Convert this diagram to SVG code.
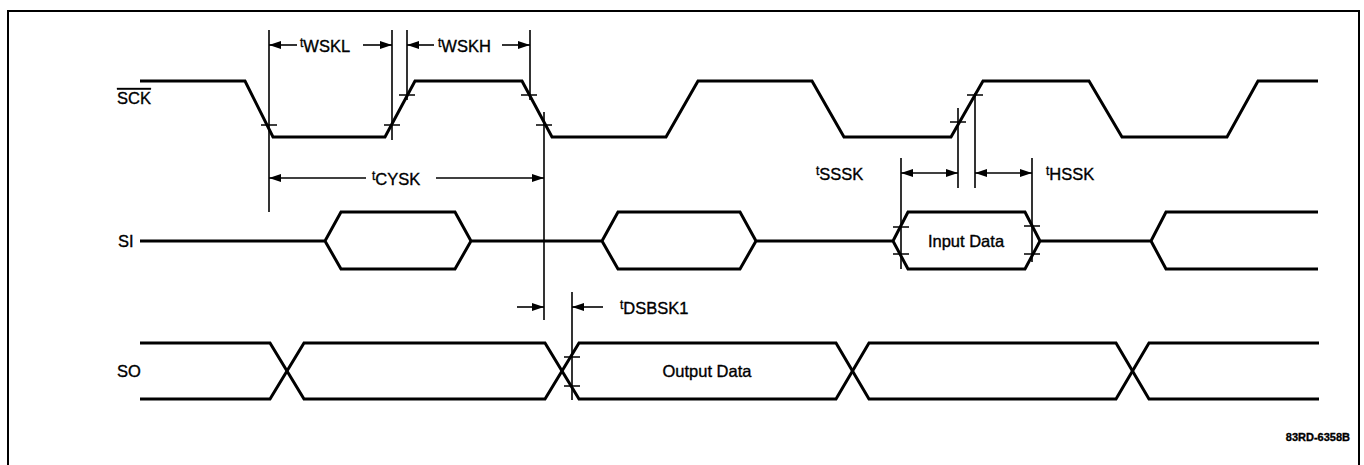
<svg xmlns="http://www.w3.org/2000/svg" width="1364" height="465" viewBox="0 0 1364 465">
  <style>
    .frame { fill: none; stroke: #000; stroke-width: 2; }
    .wave { fill: none; stroke: #000; stroke-width: 3; stroke-linejoin: miter; }
    .dim { fill: none; stroke: #000; stroke-width: 1.6; }
    .arr { fill: none; stroke: #000; stroke-width: 1.6; marker-end: url(#ah); }
    .arr2 { fill: none; stroke: #000; stroke-width: 1.6; marker-start: url(#ah); marker-end: url(#ah); }
    .tick { fill: none; stroke: #000; stroke-width: 1.6; }
    text { stroke: #000; stroke-width: 0.35; }
    .lbl { font-family: "Liberation Sans", Arial, sans-serif; font-size: 16.5px; fill: #000; }
    .t { font-family: "Liberation Sans", Arial, sans-serif; font-size: 12px; fill: #000; }
    .sub { font-family: "Liberation Sans", Arial, sans-serif; font-size: 16.5px; fill: #000; }
    .note { font-family: "Liberation Sans", Arial, sans-serif; font-size: 11px; font-weight: bold; fill: #000; }
  </style>
  <defs>
    <marker id="ah" viewBox="0 0 12 8" refX="12" refY="4" markerWidth="12" markerHeight="8" markerUnits="userSpaceOnUse" orient="auto-start-reverse">
      <path d="M0,0 L12,4 L0,8 Z" fill="#000"/>
    </marker>
  </defs>

  <rect class="frame" x="8" y="11" width="1351" height="470"/>

  <g id="sck">
    <text class="lbl" x="117" y="104" style="text-decoration: overline">SCK</text>
    <path class="wave" d="M140,81 H245 L273,137 H385 L415,81 H522 L552,137 H666 L698,81 H812 L844,137 H951 L983,81 H1089 L1122,137 H1227 L1258,81 H1318"/>
  </g>

  <g id="si">
    <text class="lbl" x="118" y="247">SI</text>
    <path class="wave" d="M140,241 H325 L341,212 H455 L471,241 L455,269 H341 L325,241 M471,241 H602 L618,212 H740 L756,241 L740,269 H618 L602,241 M756,241 H893 L908,212 H1025 L1040,241 L1025,269 H908 L893,241 M1040,241 H1151 L1166,212 H1318 M1151,241 L1166,269 H1318"/>
    <text class="lbl" x="966" y="247" text-anchor="middle">Input Data</text>
  </g>

  <g id="so">
    <text class="lbl" x="117" y="377">SO</text>
    <path class="wave" d="M140,343 H270 L304,399 H545 L579,343 H836 L869,399 H1116 L1149,343 H1319"/>
    <path class="wave" d="M140,399 H270 L304,343 H545 L579,399 H836 L869,343 H1116 L1149,399 H1319"/>
    <text class="lbl" x="707" y="377" text-anchor="middle">Output Data</text>
  </g>

  <g id="connectors">
    <line class="dim" x1="269" y1="30" x2="269" y2="212"/>
    <line class="dim" x1="392" y1="30" x2="392" y2="140"/>
    <line class="dim" x1="407" y1="30" x2="407" y2="100"/>
    <line class="dim" x1="530" y1="30" x2="530" y2="100"/>
    <line class="dim" x1="544" y1="112" x2="544" y2="320"/>
    <line class="dim" x1="572" y1="292" x2="572" y2="400"/>
    <line class="dim" x1="901" y1="158" x2="901" y2="269"/>
    <line class="dim" x1="958" y1="108" x2="958" y2="188"/>
    <line class="dim" x1="975" y1="93" x2="975" y2="188"/>
    <line class="dim" x1="1032" y1="158" x2="1032" y2="262"/>

    <path class="tick" d="M261,125 H277 M384,125 H400 M399,95 H415 M521,95 H537 M536,125 H552 M950,122 H966 M967,95 H983 M893,227 H909 M893,254 H909 M1024,226 H1040 M1024,254 H1040 M564,357 H580 M564,386 H580"/>

    <line class="arr" x1="297" y1="45" x2="269" y2="45"/>
    <line class="arr" x1="363" y1="45" x2="392" y2="45"/>
    <line class="arr" x1="434" y1="45" x2="407" y2="45"/>
    <line class="arr" x1="502" y1="45" x2="530" y2="45"/>
    <line class="arr" x1="366" y1="178" x2="269" y2="178"/>
    <line class="arr" x1="436" y1="178" x2="544" y2="178"/>
    <line class="arr2" x1="901" y1="173" x2="958" y2="173"/>
    <line class="arr2" x1="975" y1="173" x2="1032" y2="173"/>
    <line class="arr" x1="517" y1="307" x2="544" y2="307"/>
    <line class="arr" x1="603" y1="307" x2="572" y2="307"/>
  </g>

  <g id="labels">
    <text x="300" y="47"><tspan class="t">t</tspan><tspan class="sub" dy="5">WSKL</tspan></text>
    <text x="438" y="47"><tspan class="t">t</tspan><tspan class="sub" dy="5">WSKH</tspan></text>
    <text x="372" y="180"><tspan class="t">t</tspan><tspan class="sub" dy="5">CYSK</tspan></text>
    <text x="816" y="175"><tspan class="t">t</tspan><tspan class="sub" dy="5">SSSK</tspan></text>
    <text x="1046" y="175"><tspan class="t">t</tspan><tspan class="sub" dy="5">HSSK</tspan></text>
    <text x="620" y="309"><tspan class="t">t</tspan><tspan class="sub" dy="5">DSBSK1</tspan></text>
    <text class="note" x="1350" y="441" text-anchor="end">83RD-6358B</text>
  </g>
</svg>
